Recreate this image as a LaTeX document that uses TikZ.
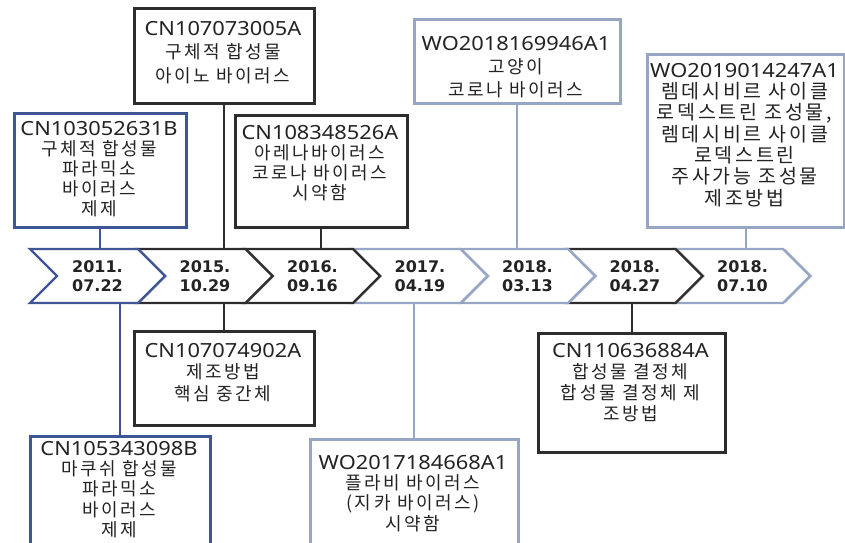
\documentclass[tikz,border=0pt]{standalone}
\usepackage{fontspec}
\setmainfont{Noto Sans CJK KR}
\newfontfamily\kr{Noto Sans CJK KR}[LetterSpace=14]
\newfontfamily\idf{Noto Sans}[FakeStretch=1.12]
\newfontfamily\dtf{DejaVu Sans}
\usetikzlibrary{shapes.symbols,shadows}
\definecolor{bluec}{RGB}{62,86,150}
\definecolor{darkc}{RGB}{45,45,45}
\definecolor{lightc}{RGB}{150,166,196}
\definecolor{textc}{RGB}{35,35,35}
\tikzset{
  chev/.style={signal, signal to=east, signal from=west, signal pointer angle=90,
    minimum width=135pt, minimum height=54pt, inner sep=0pt, fill=white, line width=2.4pt,
    text=textc, align=center, font=\dtf\bfseries\fontsize{16}{18.5}\selectfont,
    drop shadow={shadow xshift=2.5pt, shadow yshift=0pt, opacity=.45, fill=gray}},
  bx/.style={rectangle, line width=2.6pt, fill=white, inner sep=0pt, anchor=north west},
  txt/.style={inner sep=0pt, align=center, text=textc, anchor=north},
  conn/.style={line width=2pt},
}
\newcommand{\ID}[1]{{\idf\fontsize{19.5}{19.5}\selectfont #1}}
\begin{document}
\begin{tikzpicture}[x=1pt,y=-1pt]
\useasboundingbox (0,0) rectangle (845,542);
\begin{scope}
\clip (0,0) rectangle (845,542);
% chevrons, right to left
\node[chev, draw=lightc] (c7) at (742.5,276) {2018.\\07.10};
\node[chev, draw=darkc]  (c6) at (635,276) {2018.\\04.27};
\node[chev, draw=lightc] (c5) at (527.5,276) {2018.\\03.13};
\node[chev, draw=lightc] (c4) at (420,276) {2017.\\04.19};
\node[chev, draw=darkc]  (c3) at (312.5,276) {2016.\\09.16};
\node[chev, draw=darkc]  (c2) at (205,276) {2015.\\10.29};
\node[chev, draw=bluec]  (c1) at (97.5,276) {2011.\\07.22};

% upper boxes
\node[bx, draw=bluec, minimum width=172pt, minimum height=114pt] (A) at (13,112) {};
\node[txt, font=\kr\fontsize{18}{20}\selectfont] (At) at (99,121)
  {\ID{CN103052631B}\\구체적 합성물\\파라믹소\\바이러스\\제제};
\node[bx, draw=darkc, minimum width=180pt, minimum height=95pt] (B) at (133,7) {};
\node[txt, font=\kr\fontsize{18}{23.5}\selectfont] (Bt) at (223,21)
  {\ID{CN107073005A}\\구체적 합성물\\아이노 바이러스};
\node[bx, draw=darkc, minimum width=172pt, minimum height=112pt] (C) at (234,114) {};
\node[txt, font=\kr\fontsize{18}{20}\selectfont] (Ct) at (320,125)
  {\ID{CN108348526A}\\아레나바이러스\\코로나 바이러스\\시약함};
\node[bx, draw=lightc, minimum width=206pt, minimum height=84pt] (D) at (413,18) {};
\node[txt, font=\kr\fontsize{18}{23}\selectfont] (Dt) at (516,36)
  {\ID{WO2018169946A1}\\고양이\\코로나 바이러스};
\node[bx, draw=lightc, minimum width=197pt, minimum height=173pt] (E) at (646,53) {};
\node[txt, font=\kr\fontsize{19.5}{21.3}\selectfont] (Et) at (744.5,63)
  {\ID{WO2019014247A1}\\렘데시비르 사이클\\로덱스트린 조성물,\\렘데시비르 사이클\\로덱스트린\\주사가능 조성물\\제조방법};

% lower boxes
\node[bx, draw=darkc, minimum width=180pt, minimum height=94pt] (F) at (133,330) {};
\node[txt, font=\kr\fontsize{18}{21.5}\selectfont] (Ft) at (223,343)
  {\ID{CN107074902A}\\제조방법\\핵심 중간체};
\node[bx, draw=bluec, minimum width=180pt, minimum height=112pt] (G) at (29,435) {};
\node[txt, font=\kr\fontsize{18}{20.3}\selectfont] (Gt) at (119,441)
  {\ID{CN105343098B}\\마쿠쉬 합성물\\파라믹소\\바이러스\\제제};
\node[bx, draw=lightc, minimum width=208pt, minimum height=110pt] (H) at (309,438) {};
\node[txt, font=\kr\fontsize{18}{20.3}\selectfont] (Ht) at (413,455)
  {\ID{WO2017184668A1}\\플라비 바이러스\\(지카 바이러스)\\시약함};
\node[bx, draw=darkc, minimum width=187pt, minimum height=119pt] (I) at (537,332) {};
\node[txt, font=\kr\fontsize{18}{21}\selectfont] (It) at (630.5,343)
  {\ID{CN110636884A}\\합성물 결정체\\합성물 결정체 제\\조방법};

% connectors
\draw[conn, bluec]  (A.south) -- (A.south |- c1.north);
\draw[conn, darkc]  (B.south) -- (B.south |- c2.north);
\draw[conn, darkc]  (C.south) -- (C.south |- c3.north);
\draw[conn, lightc] (D.south) -- (D.south |- c5.north);
\draw[conn, lightc] (E.south) -- (E.south |- c7.north);
\draw[conn, darkc]  (F.north) -- (F.north |- c2.south);
\draw[conn, bluec]  (G.north) -- (G.north |- c1.south);
\draw[conn, lightc] (H.north) -- (H.north |- c4.south);
\draw[conn, darkc]  (I.north) -- (I.north |- c6.south);
\end{scope}
\end{tikzpicture}
\end{document}
